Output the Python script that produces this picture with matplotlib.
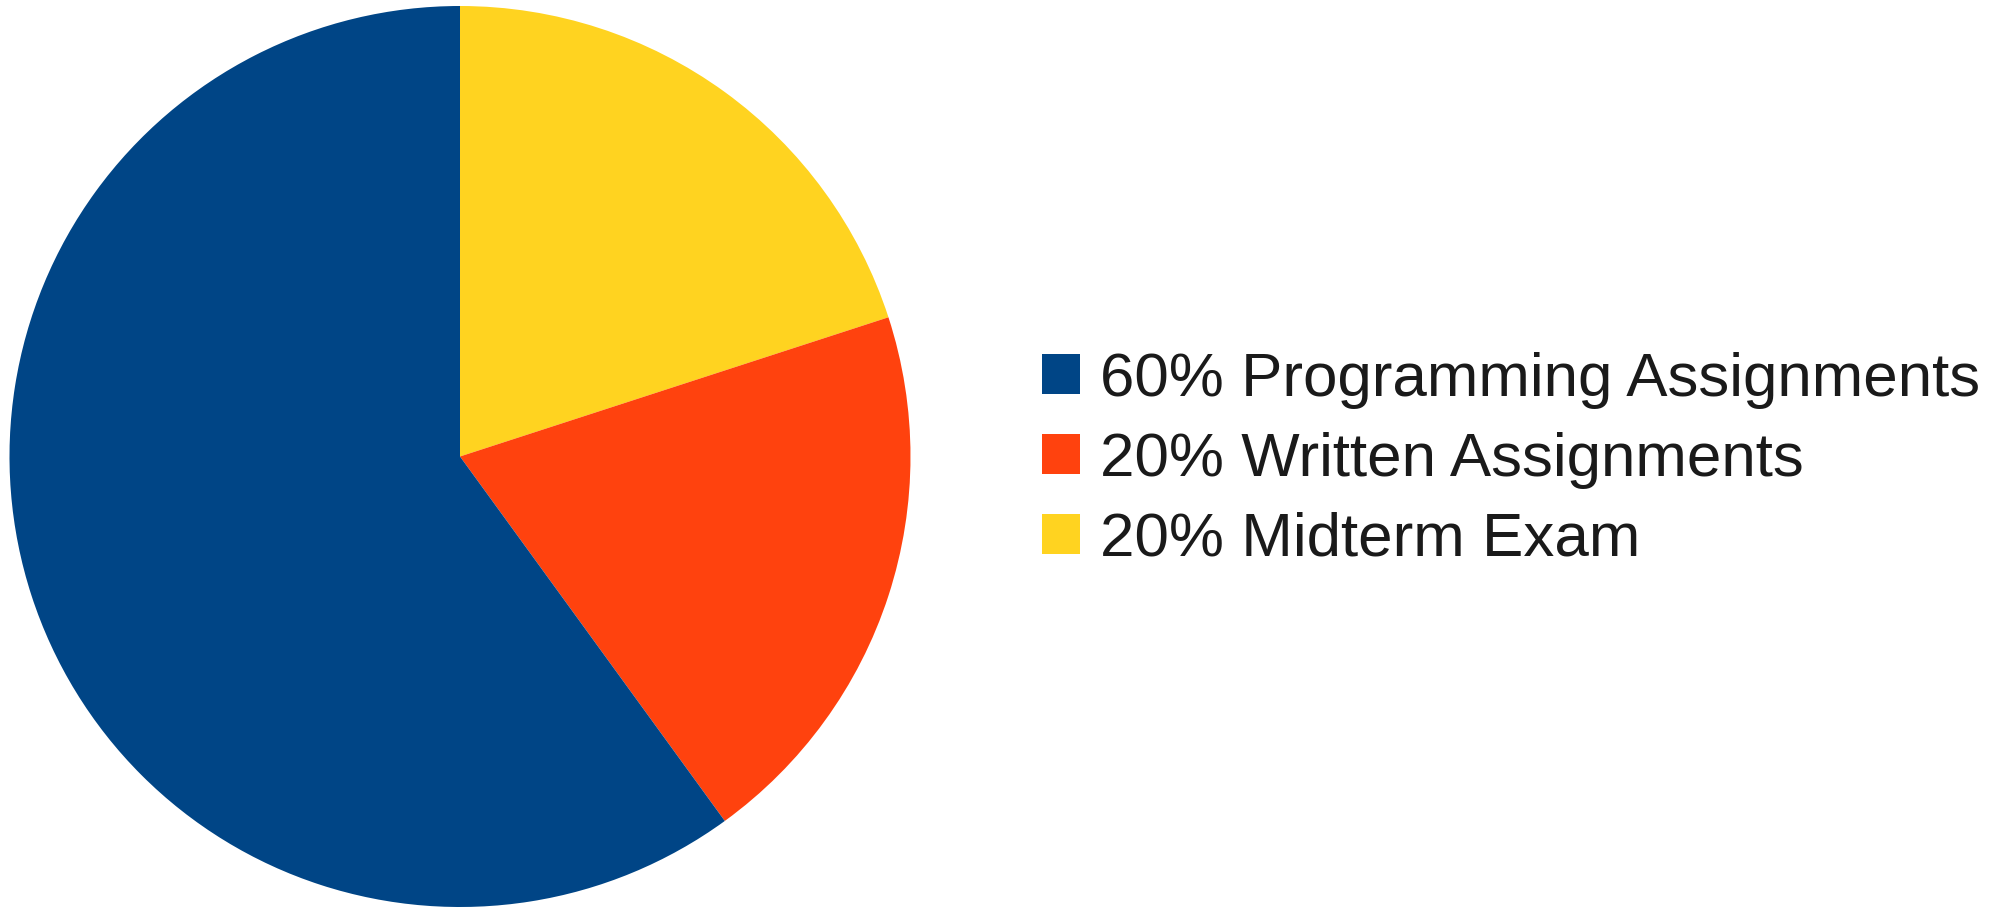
import matplotlib.pyplot as plt
from matplotlib.patches import Patch

# grading breakdown
labels = ['60% Programming Assignments', '20% Written Assignments', '20% Midterm Exam']
shares = [60, 20, 20]
colors = ['#004586', '#ff420e', '#ffd320']

plt.rcParams['font.family'] = ['Liberation Sans', 'DejaVu Sans']

W, H = 2007, 908
fig = plt.figure(figsize=(W / 100, H / 100), dpi=100)

# pie box in pixels: centre (460, 456.5), radius 450.5
r = 450.5
cx, cy = 460, 456.5
ax = fig.add_axes([(cx - r) / W, (H - cy - r) / H, 2 * r / W, 2 * r / H])

# drawn clockwise from the top, midterm first
order = [2, 1, 0]
ax.pie([shares[i] for i in order], colors=[colors[i] for i in order],
       startangle=90, counterclock=False, radius=1,
       wedgeprops=dict(linewidth=0))
ax.set_xlim(-1, 1)
ax.set_ylim(-1, 1)
ax.axis('off')

fs = 44.6
fpx = fs * 100 / 72
handles = [Patch(facecolor=c, edgecolor='none') for c in colors]
leg = fig.legend(handles, labels, loc='upper left',
                 bbox_to_anchor=(1042 / W, (H - 352) / H),
                 frameon=False, fontsize=fs, borderpad=0, borderaxespad=0,
                 handlelength=38 / fpx, handleheight=38 / fpx,
                 handletextpad=20 / fpx, labelspacing=0.37)
for t in leg.get_texts():
    t.set_color('#1a1a1a')

fig.savefig('out.png', dpi=100)
